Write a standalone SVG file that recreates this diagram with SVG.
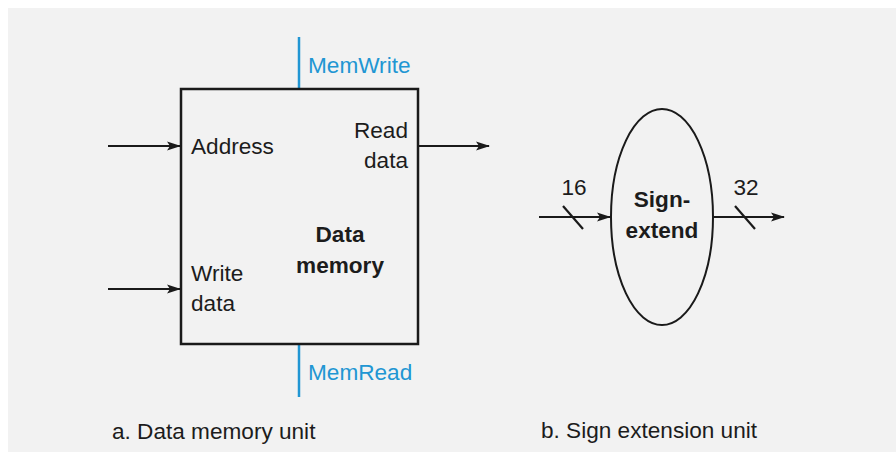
<svg xmlns="http://www.w3.org/2000/svg" width="896" height="452" viewBox="0 0 896 452">
<defs>
<marker id="ah" markerWidth="14" markerHeight="10" refX="13" refY="5" orient="auto" markerUnits="userSpaceOnUse">
<path d="M0,0.5 L14,5 L0,9.5 L3,5 Z" fill="#1a1a1a"/>
</marker>
<style>
.t{font-family:"Liberation Sans",Arial,sans-serif;font-size:22.6px;fill:#1c1c1c;}
.b{font-weight:bold;}
.blue{fill:#2196d3;}
.w{stroke:#1a1a1a;stroke-width:2.2;fill:none;}
.ctl{stroke:#2196d3;stroke-width:2.5;fill:none;}
</style>
</defs>
<rect x="0" y="0" width="896" height="452" fill="#ffffff"/>
<rect x="8" y="8" width="888" height="444" fill="#f2f2f2"/>

<g id="connectors">
<line class="w" x1="108" y1="146" x2="180" y2="146" marker-end="url(#ah)"/>
<line class="w" x1="108" y1="289" x2="180" y2="289" marker-end="url(#ah)"/>
<line class="w" x1="419" y1="146" x2="489" y2="146" marker-end="url(#ah)"/>
<line class="ctl" x1="299" y1="37" x2="299" y2="89"/>
<line class="ctl" x1="299" y1="344" x2="299" y2="397"/>
<line class="w" x1="539" y1="217" x2="610" y2="217" marker-end="url(#ah)"/>
<line class="w" x1="713" y1="217" x2="784" y2="217" marker-end="url(#ah)"/>
<line class="w" x1="563" y1="206" x2="583" y2="229"/>
<line class="w" x1="735" y1="206" x2="755" y2="229"/>
</g>

<g id="data-memory">
<rect x="181" y="89" width="237" height="255" fill="none" stroke="#1a1a1a" stroke-width="2.5"/>
<text class="t" x="191" y="154">Address</text>
<text class="t" x="408" y="138" text-anchor="end">Read</text>
<text class="t" x="408" y="168" text-anchor="end">data</text>
<text class="t" x="191" y="281">Write</text>
<text class="t" x="191" y="311">data</text>
<text class="t b" x="340" y="242" text-anchor="middle">Data</text>
<text class="t b" x="340" y="273" text-anchor="middle">memory</text>
</g>

<g id="memwrite">
<text class="t blue" x="308" y="73">MemWrite</text>
</g>
<g id="memread">
<text class="t blue" x="308" y="380">MemRead</text>
</g>

<g id="sign-extend">
<ellipse cx="662" cy="217" rx="51" ry="108" fill="none" stroke="#1a1a1a" stroke-width="2"/>
<text class="t b" x="662" y="207" text-anchor="middle">Sign-</text>
<text class="t b" x="662" y="238" text-anchor="middle">extend</text>
</g>

<g id="labels">
<text class="t" x="574" y="195" text-anchor="middle">16</text>
<text class="t" x="746" y="195" text-anchor="middle">32</text>
<text class="t" x="112" y="439">a. Data memory unit</text>
<text class="t" x="541" y="438">b. Sign extension unit</text>
</g>
</svg>
